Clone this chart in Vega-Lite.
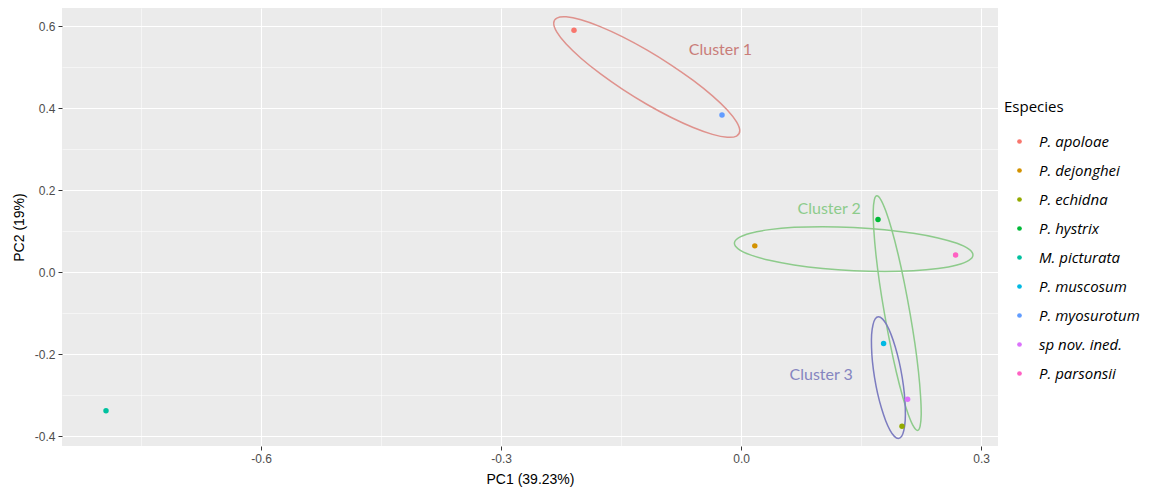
{
  "$schema": "https://vega.github.io/schema/vega-lite/v6.json",
  "width": 936,
  "height": 438,
  "autosize": {"type": "none"},
  "padding": {"left": 62, "top": 8, "right": 152, "bottom": 42},
  "background": "white",
  "config": {
    "view": {"fill": "#EBEBEB", "stroke": null},
    "axis": {
      "domain": false,
      "gridColor": "white",
      "tickColor": "#333333",
      "tickSize": 4,
      "labelColor": "#4D4D4D",
      "labelFont": "Liberation Sans",
      "labelFontSize": 12,
      "titleFont": "Liberation Sans",
      "titleFontSize": 14,
      "titleFontWeight": "normal",
      "titleColor": "#000000"
    }
  },
  "datasets": {
    "puntos": [
      {"Especie": "P. apoloae", "PC1": -0.209, "PC2": 0.590},
      {"Especie": "P. dejonghei", "PC1": 0.017, "PC2": 0.064},
      {"Especie": "P. echidna", "PC1": 0.201, "PC2": -0.376},
      {"Especie": "P. hystrix", "PC1": 0.171, "PC2": 0.1285},
      {"Especie": "M. picturata", "PC1": -0.794, "PC2": -0.338},
      {"Especie": "P. muscosum", "PC1": 0.178, "PC2": -0.174},
      {"Especie": "P. myosurotum", "PC1": -0.024, "PC2": 0.383},
      {"Especie": "sp nov. ined.", "PC1": 0.208, "PC2": -0.310},
      {"Especie": "P. parsonsii", "PC1": 0.268, "PC2": 0.042}
    ],
    "elipses": [
      {"g": "C1", "i": 0, "PC1": -0.0018, "PC2": 0.3444},
      {"g": "C1", "i": 1, "PC1": -0.0058, "PC2": 0.3317},
      {"g": "C1", "i": 2, "PC1": -0.0174, "PC2": 0.3288},
      {"g": "C1", "i": 3, "PC1": -0.0359, "PC2": 0.3359},
      {"g": "C1", "i": 4, "PC1": -0.0600, "PC2": 0.3526},
      {"g": "C1", "i": 5, "PC1": -0.0880, "PC2": 0.3776},
      {"g": "C1", "i": 6, "PC1": -0.1181, "PC2": 0.4093},
      {"g": "C1", "i": 7, "PC1": -0.1482, "PC2": 0.4456},
      {"g": "C1", "i": 8, "PC1": -0.1762, "PC2": 0.4838},
      {"g": "C1", "i": 9, "PC1": -0.2003, "PC2": 0.5215},
      {"g": "C1", "i": 10, "PC1": -0.2188, "PC2": 0.5560},
      {"g": "C1", "i": 11, "PC1": -0.2304, "PC2": 0.5851},
      {"g": "C1", "i": 12, "PC1": -0.2344, "PC2": 0.6068},
      {"g": "C1", "i": 13, "PC1": -0.2304, "PC2": 0.6195},
      {"g": "C1", "i": 14, "PC1": -0.2188, "PC2": 0.6224},
      {"g": "C1", "i": 15, "PC1": -0.2003, "PC2": 0.6153},
      {"g": "C1", "i": 16, "PC1": -0.1762, "PC2": 0.5986},
      {"g": "C1", "i": 17, "PC1": -0.1482, "PC2": 0.5736},
      {"g": "C1", "i": 18, "PC1": -0.1181, "PC2": 0.5419},
      {"g": "C1", "i": 19, "PC1": -0.0880, "PC2": 0.5056},
      {"g": "C1", "i": 20, "PC1": -0.0600, "PC2": 0.4674},
      {"g": "C1", "i": 21, "PC1": -0.0359, "PC2": 0.4297},
      {"g": "C1", "i": 22, "PC1": -0.0174, "PC2": 0.3952},
      {"g": "C1", "i": 23, "PC1": -0.0058, "PC2": 0.3661},
      {"g": "C2a", "i": 0, "PC1": 0.2897, "PC2": 0.0418},
      {"g": "C2a", "i": 1, "PC1": 0.2846, "PC2": 0.0286},
      {"g": "C2a", "i": 2, "PC1": 0.2697, "PC2": 0.0172},
      {"g": "C2a", "i": 3, "PC1": 0.2460, "PC2": 0.0086},
      {"g": "C2a", "i": 4, "PC1": 0.2152, "PC2": 0.0031},
      {"g": "C2a", "i": 5, "PC1": 0.1792, "PC2": 0.0013},
      {"g": "C2a", "i": 6, "PC1": 0.1406, "PC2": 0.0032},
      {"g": "C2a", "i": 7, "PC1": 0.1020, "PC2": 0.0087},
      {"g": "C2a", "i": 8, "PC1": 0.0660, "PC2": 0.0175},
      {"g": "C2a", "i": 9, "PC1": 0.0352, "PC2": 0.0288},
      {"g": "C2a", "i": 10, "PC1": 0.0115, "PC2": 0.0420},
      {"g": "C2a", "i": 11, "PC1": -0.0034, "PC2": 0.0562},
      {"g": "C2a", "i": 12, "PC1": -0.0085, "PC2": 0.0704},
      {"g": "C2a", "i": 13, "PC1": -0.0034, "PC2": 0.0836},
      {"g": "C2a", "i": 14, "PC1": 0.0115, "PC2": 0.0950},
      {"g": "C2a", "i": 15, "PC1": 0.0352, "PC2": 0.1036},
      {"g": "C2a", "i": 16, "PC1": 0.0660, "PC2": 0.1091},
      {"g": "C2a", "i": 17, "PC1": 0.1020, "PC2": 0.1109},
      {"g": "C2a", "i": 18, "PC1": 0.1406, "PC2": 0.1090},
      {"g": "C2a", "i": 19, "PC1": 0.1792, "PC2": 0.1035},
      {"g": "C2a", "i": 20, "PC1": 0.2152, "PC2": 0.0947},
      {"g": "C2a", "i": 21, "PC1": 0.2460, "PC2": 0.0834},
      {"g": "C2a", "i": 22, "PC1": 0.2697, "PC2": 0.0702},
      {"g": "C2a", "i": 23, "PC1": 0.2846, "PC2": 0.0560},
      {"g": "C2b", "i": 0, "PC1": 0.2204, "PC2": -0.3859},
      {"g": "C2b", "i": 1, "PC1": 0.2236, "PC2": -0.3762},
      {"g": "C2b", "i": 2, "PC1": 0.2250, "PC2": -0.3476},
      {"g": "C2b", "i": 3, "PC1": 0.2242, "PC2": -0.3022},
      {"g": "C2b", "i": 4, "PC1": 0.2216, "PC2": -0.2430},
      {"g": "C2b", "i": 5, "PC1": 0.2171, "PC2": -0.1740},
      {"g": "C2b", "i": 6, "PC1": 0.2110, "PC2": -0.1000},
      {"g": "C2b", "i": 7, "PC1": 0.2039, "PC2": -0.0260},
      {"g": "C2b", "i": 8, "PC1": 0.1962, "PC2": 0.0430},
      {"g": "C2b", "i": 9, "PC1": 0.1884, "PC2": 0.1022},
      {"g": "C2b", "i": 10, "PC1": 0.1810, "PC2": 0.1476},
      {"g": "C2b", "i": 11, "PC1": 0.1746, "PC2": 0.1762},
      {"g": "C2b", "i": 12, "PC1": 0.1696, "PC2": 0.1859},
      {"g": "C2b", "i": 13, "PC1": 0.1664, "PC2": 0.1762},
      {"g": "C2b", "i": 14, "PC1": 0.1650, "PC2": 0.1476},
      {"g": "C2b", "i": 15, "PC1": 0.1658, "PC2": 0.1022},
      {"g": "C2b", "i": 16, "PC1": 0.1684, "PC2": 0.0430},
      {"g": "C2b", "i": 17, "PC1": 0.1729, "PC2": -0.0260},
      {"g": "C2b", "i": 18, "PC1": 0.1790, "PC2": -0.1000},
      {"g": "C2b", "i": 19, "PC1": 0.1861, "PC2": -0.1740},
      {"g": "C2b", "i": 20, "PC1": 0.1938, "PC2": -0.2430},
      {"g": "C2b", "i": 21, "PC1": 0.2016, "PC2": -0.3022},
      {"g": "C2b", "i": 22, "PC1": 0.2090, "PC2": -0.3476},
      {"g": "C2b", "i": 23, "PC1": 0.2154, "PC2": -0.3762},
      {"g": "C3", "i": 0, "PC1": 0.1964, "PC2": -0.4056},
      {"g": "C3", "i": 1, "PC1": 0.2005, "PC2": -0.4005},
      {"g": "C3", "i": 2, "PC1": 0.2033, "PC2": -0.3857},
      {"g": "C3", "i": 3, "PC1": 0.2050, "PC2": -0.3622},
      {"g": "C3", "i": 4, "PC1": 0.2051, "PC2": -0.3315},
      {"g": "C3", "i": 5, "PC1": 0.2039, "PC2": -0.2957},
      {"g": "C3", "i": 6, "PC1": 0.2013, "PC2": -0.2573},
      {"g": "C3", "i": 7, "PC1": 0.1975, "PC2": -0.2189},
      {"g": "C3", "i": 8, "PC1": 0.1927, "PC2": -0.1831},
      {"g": "C3", "i": 9, "PC1": 0.1874, "PC2": -0.1524},
      {"g": "C3", "i": 10, "PC1": 0.1819, "PC2": -0.1289},
      {"g": "C3", "i": 11, "PC1": 0.1765, "PC2": -0.1141},
      {"g": "C3", "i": 12, "PC1": 0.1716, "PC2": -0.1090},
      {"g": "C3", "i": 13, "PC1": 0.1675, "PC2": -0.1141},
      {"g": "C3", "i": 14, "PC1": 0.1647, "PC2": -0.1289},
      {"g": "C3", "i": 15, "PC1": 0.1630, "PC2": -0.1524},
      {"g": "C3", "i": 16, "PC1": 0.1629, "PC2": -0.1831},
      {"g": "C3", "i": 17, "PC1": 0.1641, "PC2": -0.2189},
      {"g": "C3", "i": 18, "PC1": 0.1667, "PC2": -0.2573},
      {"g": "C3", "i": 19, "PC1": 0.1705, "PC2": -0.2957},
      {"g": "C3", "i": 20, "PC1": 0.1753, "PC2": -0.3315},
      {"g": "C3", "i": 21, "PC1": 0.1806, "PC2": -0.3622},
      {"g": "C3", "i": 22, "PC1": 0.1861, "PC2": -0.3857},
      {"g": "C3", "i": 23, "PC1": 0.1915, "PC2": -0.4005}
    ],
    "etiquetas": [
      {"g": "C1", "texto": "Cluster 1", "PC1": -0.026, "PC2": 0.541},
      {"g": "C2a", "texto": "Cluster 2", "PC1": 0.110, "PC2": 0.155},
      {"g": "C3", "texto": "Cluster 3", "PC1": 0.100, "PC2": -0.251}
    ]
  },
  "encoding": {
    "x": {
      "field": "PC1",
      "type": "quantitative",
      "scale": {"domain": [-0.849, 0.321], "nice": false, "zero": false},
      "axis": {
        "title": "PC1 (39.23%)",
        "values": [-0.75, -0.6, -0.45, -0.3, -0.15, 0, 0.15, 0.3],
        "labelExpr": "abs(datum.value*10/3 - round(datum.value*10/3)) < 0.01 ? replace(format(datum.value, '.1f'), '\u2212', '-') : ''",
        "gridWidth": {"condition": {"test": "abs(datum.value*10/3 - round(datum.value*10/3)) < 0.01", "value": 1.1}, "value": 0.5},
        "tickOpacity": {"condition": {"test": "abs(datum.value*10/3 - round(datum.value*10/3)) < 0.01", "value": 1}, "value": 0},
        "labelPadding": 3,
        "titlePadding": 8
      }
    },
    "y": {
      "field": "PC2",
      "type": "quantitative",
      "scale": {"domain": [-0.424, 0.644], "nice": false, "zero": false},
      "axis": {
        "title": "PC2 (19%)",
        "values": [-0.4, -0.3, -0.2, -0.1, 0, 0.1, 0.2, 0.3, 0.4, 0.5, 0.6],
        "labelExpr": "abs(datum.value*5 - round(datum.value*5)) < 0.01 ? replace(format(datum.value, '.1f'), '\u2212', '-') : ''",
        "gridWidth": {"condition": {"test": "abs(datum.value*5 - round(datum.value*5)) < 0.01", "value": 1.1}, "value": 0.5},
        "tickOpacity": {"condition": {"test": "abs(datum.value*5 - round(datum.value*5)) < 0.01", "value": 1}, "value": 0},
        "labelPadding": 3,
        "titlePadding": 8
      }
    }
  },
  "layer": [
    {
      "data": {"name": "elipses"},
      "mark": {"type": "line", "interpolate": "cardinal-closed", "strokeWidth": 1.5},
      "encoding": {
        "detail": {"field": "g"},
        "order": {"field": "i", "type": "quantitative"},
        "color": {
          "field": "g",
          "type": "nominal",
          "scale": {"domain": ["C1", "C2a", "C2b", "C3"], "range": ["#DF928D", "#8DCB8B", "#8DCB8B", "#7C7CC0"]},
          "legend": null
        }
      }
    },
    {
      "data": {"name": "etiquetas"},
      "mark": {"type": "text", "font": "Lato", "fontSize": 16, "align": "center", "baseline": "middle"},
      "encoding": {
        "text": {"field": "texto"},
        "color": {
          "field": "g",
          "type": "nominal",
          "scale": {"domain": ["C1", "C2a", "C2b", "C3"], "range": ["#C97D79", "#8DCB8B", "#8DCB8B", "#8585C0"]},
          "legend": null
        }
      }
    },
    {
      "data": {"name": "puntos"},
      "mark": {"type": "point", "filled": true, "opacity": 1, "size": 30},
      "encoding": {
        "color": {
          "field": "Especie",
          "type": "nominal",
          "scale": {
            "domain": ["P. apoloae", "P. dejonghei", "P. echidna", "P. hystrix", "M. picturata", "P. muscosum", "P. myosurotum", "sp nov. ined.", "P. parsonsii"],
            "range": ["#F8766D", "#D39200", "#93AA00", "#00BA38", "#00C19F", "#00B9E3", "#619CFF", "#DB72FB", "#FF61C3"]
          },
          "legend": {
            "title": "Especies",
            "orient": "none",
            "legendX": 942,
            "legendY": 92,
            "titleFont": "Open Sans",
            "titleFontSize": 15,
            "titleFontWeight": "normal",
            "titleColor": "#000000",
            "titlePadding": 19,
            "labelFont": "Open Sans",
            "labelFontSize": 15,
            "labelFontStyle": "italic",
            "labelColor": "#000000",
            "labelOffset": 12,
            "symbolType": "circle",
            "symbolSize": 22,
            "symbolOffset": 8,
            "rowPadding": 13
          }
        }
      }
    }
  ],
  "resolve": {"scale": {"color": "independent"}}
}
